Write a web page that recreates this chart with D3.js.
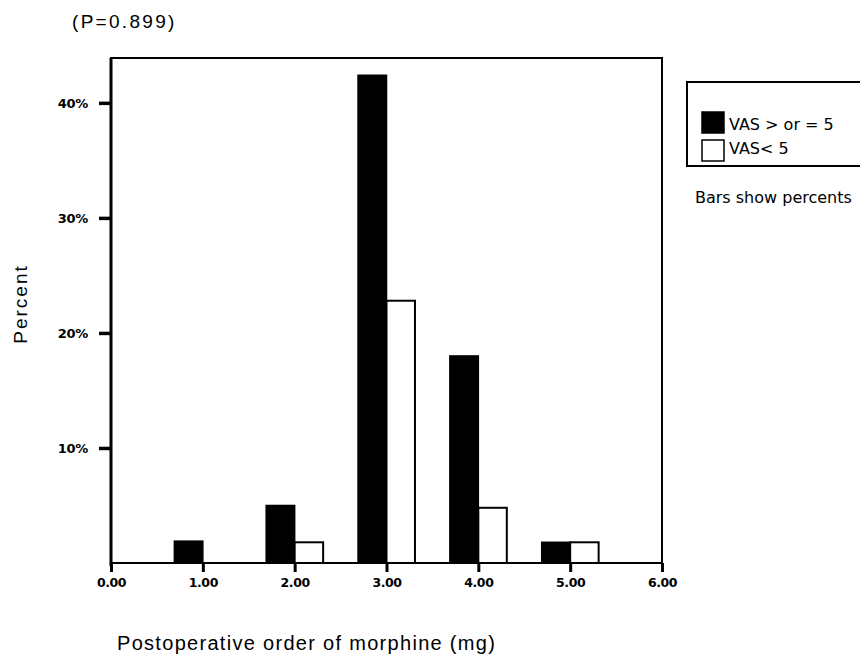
<!doctype html>
<html>
<head>
<meta charset="UTF-8">
<title>Postoperative order of morphine</title>
<script src="https://cdn.jsdelivr.net/npm/d3@7"></script>
<style>
body { margin: 0; background: #fff; }
svg { display: block; }
</style>
</head>
<body>
<script>
// values (percent)
var categories = [1, 2, 3, 4, 5];
var vasHigh = [1.9, 5.0, 42.4, 18.0, 1.8];   // VAS > or = 5 (black)
var vasLow  = [0, 1.8, 22.8, 4.8, 1.8];      // VAS< 5 (white)
var xTicks = [0, 1, 2, 3, 4, 5, 6];
var yTicks = [10, 20, 30, 40];
var seriesNames = ["VAS > or = 5", "VAS< 5"];

var w = 860, h = 661;
var plot = {left: 111, right: 662, top: 58, bottom: 563};
var barW = 0.31; // in x units

var svg = d3.select("body").append("svg")
  .attr("width", w).attr("height", h);

var x = d3.scaleLinear().domain([0, 6]).range([plot.left, plot.right]);
var y = d3.scaleLinear().domain([0, 43.9]).range([plot.bottom, plot.top]);

// p-value on top
svg.append("text")
  .attr("x", 72).attr("y", 28)
  .attr("font-family", "Liberation Sans, Arial, sans-serif")
  .attr("font-size", 19)
  .attr("letter-spacing", 2.3)
  .text("(P=0.899)");

// bars
var data = categories.map(function(c, i) {
  return {cat: c, high: vasHigh[i], low: vasLow[i]};
});

svg.selectAll("rect.high")
  .data(data).enter().append("rect").attr("class", "high")
  .attr("x", function(d) { return x(d.cat - barW); })
  .attr("width", function(d) { return x(d.cat) - x(d.cat - barW); })
  .attr("y", function(d) { return y(d.high); })
  .attr("height", function(d) { return y(0) - y(d.high); })
  .attr("fill", "#000").attr("stroke", "#000").attr("stroke-width", 1.5);

svg.selectAll("rect.low")
  .data(data.filter(function(d) { return d.low > 0; })).enter().append("rect").attr("class", "low")
  .attr("x", function(d) { return x(d.cat); })
  .attr("width", function(d) { return x(d.cat + barW) - x(d.cat); })
  .attr("y", function(d) { return y(d.low); })
  .attr("height", function(d) { return y(0) - y(d.low); })
  .attr("fill", "#fff").attr("stroke", "#000").attr("stroke-width", 2);

// frame
svg.append("rect")
  .attr("x", plot.left).attr("y", plot.top)
  .attr("width", plot.right - plot.left).attr("height", plot.bottom - plot.top)
  .attr("fill", "none").attr("stroke", "#000").attr("stroke-width", 2);
svg.append("line")
  .attr("x1", plot.left).attr("x2", plot.left)
  .attr("y1", plot.top).attr("y2", plot.bottom + 3)
  .attr("stroke", "#000").attr("stroke-width", 3);

// y axis
var yAxis = d3.axisLeft(y).tickValues(yTicks)
  .tickFormat(function(d) { return d + "%"; })
  .tickSize(12).tickPadding(11);
var gy = svg.append("g")
  .attr("transform", "translate(" + plot.left + ",0)")
  .call(yAxis);
gy.select(".domain").remove();
gy.selectAll(".tick line").attr("stroke-width", 3.5);
gy.selectAll(".tick text")
  .attr("font-family", "DejaVu Sans, Verdana, sans-serif")
  .attr("font-weight", "bold")
  .attr("font-size", 13)
  .attr("letter-spacing", -0.3)
  .attr("fill", "#000");

// x axis
var xAxis = d3.axisBottom(x).tickValues(xTicks)
  .tickFormat(d3.format(".2f"))
  .tickSize(9).tickPadding(6);
var gx = svg.append("g")
  .attr("transform", "translate(0," + plot.bottom + ")")
  .call(xAxis);
gx.select(".domain").remove();
gx.selectAll(".tick line").attr("stroke-width", 3);
gx.selectAll(".tick text")
  .attr("font-family", "DejaVu Sans, Verdana, sans-serif")
  .attr("font-weight", "bold")
  .attr("font-size", 12.5)
  .attr("letter-spacing", -0.4)
  .attr("fill", "#000");

// axis titles
svg.append("text")
  .attr("transform", "translate(27,304) rotate(-90)")
  .attr("text-anchor", "middle")
  .attr("font-family", "Liberation Sans, Arial, sans-serif")
  .attr("font-size", 19)
  .attr("letter-spacing", 2)
  .text("Percent");

svg.append("text")
  .attr("x", 117).attr("y", 650)
  .attr("font-family", "Liberation Sans, Arial, sans-serif")
  .attr("font-size", 20)
  .attr("letter-spacing", 1.3)
  .text("Postoperative order of morphine (mg)");

// legend
var legend = svg.append("g");
legend.append("rect")
  .attr("x", 687).attr("y", 82)
  .attr("width", 190).attr("height", 84)
  .attr("fill", "none").attr("stroke", "#000").attr("stroke-width", 2);

var fills = ["#000", "#fff"];
seriesNames.forEach(function(name, i) {
  legend.append("rect")
    .attr("x", 702).attr("y", 112 + i * 28)
    .attr("width", 22).attr("height", 21)
    .attr("fill", fills[i]).attr("stroke", "#000").attr("stroke-width", 1.5);
  legend.append("text")
    .attr("x", 729).attr("y", 130 + i * 24)
    .attr("font-family", "DejaVu Sans, Verdana, sans-serif")
    .attr("font-size", 16)
    .text(name);
});

svg.append("text")
  .attr("x", 695).attr("y", 203)
  .attr("font-family", "DejaVu Sans, Verdana, sans-serif")
  .attr("font-size", 16)
  .text("Bars show percents");
</script>
</body>
</html>
